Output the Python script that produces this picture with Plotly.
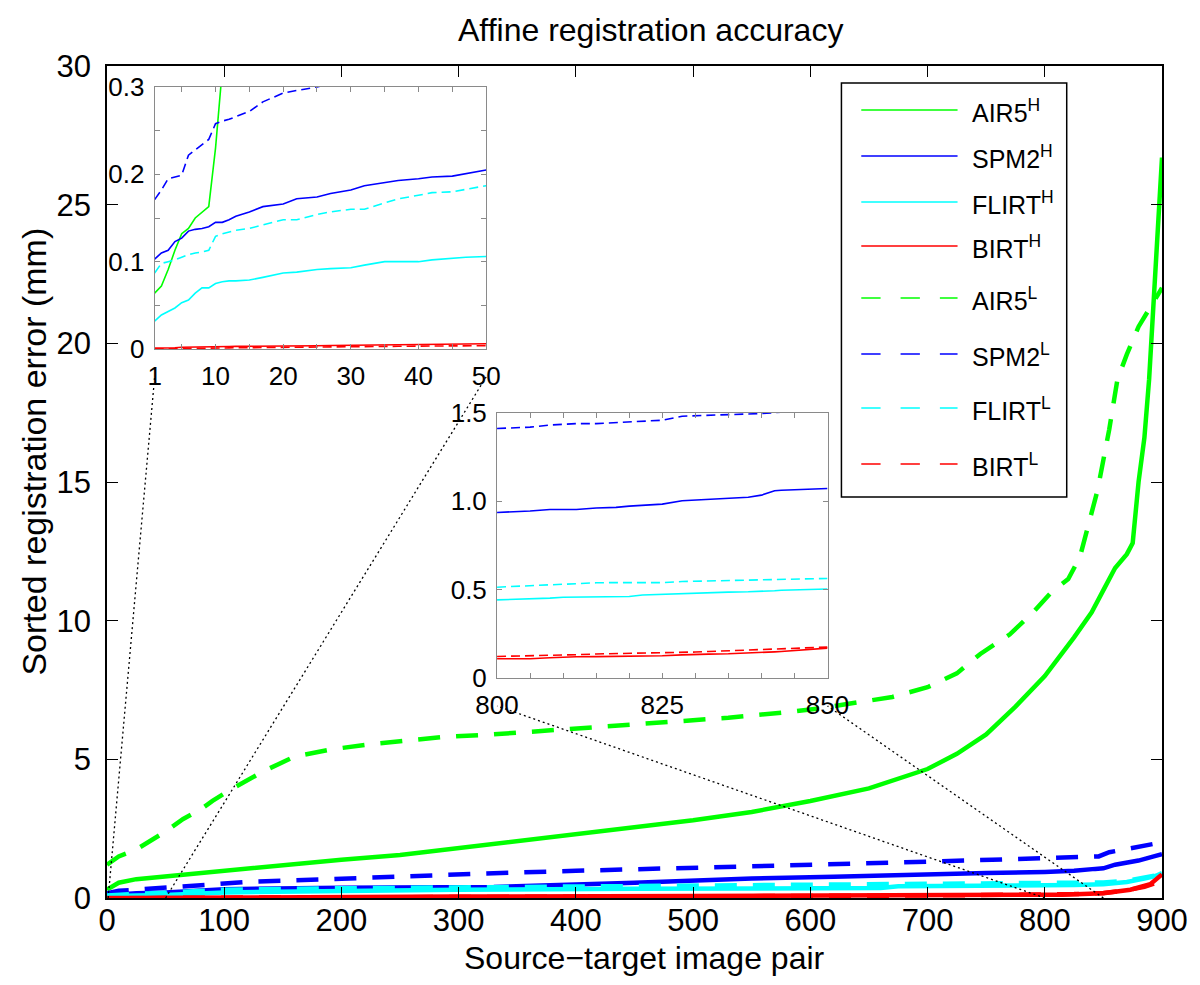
import plotly.graph_objects as go

# ---------------------------------------------------------------------------
# Sorted registration errors (mm) for each method, high (H) and low (L) quality
# ---------------------------------------------------------------------------
methods = ["AIR5", "SPM2", "FLIRT", "BIRT"]

# main panel, sorted error per source-target pair
air5_h_x = [0, 10, 25, 50, 75, 100, 150, 200, 250, 300, 350, 400, 450, 500, 550, 600, 650,
            700, 725, 750, 775, 800, 825, 840, 850, 860, 870, 875, 880, 885, 889, 893, 896, 900]
air5_h_y = [0.3, 0.55, 0.68, 0.78, 0.9, 1.0, 1.2, 1.38, 1.55, 1.8, 2.05, 2.3, 2.55, 2.8, 3.1, 3.5, 3.95,
            4.65, 5.2, 5.9, 6.9, 8.0, 9.4, 10.3, 11.1, 11.9, 12.4, 12.8, 15.0, 16.6, 18.7, 21.5, 24.0, 26.7]

spm2_h_x = [0, 10, 25, 50, 75, 100, 200, 330, 450, 500, 550, 620, 700, 750, 800, 825, 843, 850,
            860, 880, 893, 900]
spm2_h_y = [0.1, 0.13, 0.17, 0.2, 0.27, 0.32, 0.37, 0.4, 0.55, 0.63, 0.7, 0.77, 0.87, 0.9, 0.94, 0.98,
            1.05, 1.07, 1.2, 1.35, 1.5, 1.58]

flirt_h_x = [0, 10, 25, 50, 100, 200, 300, 450, 660, 675, 800, 825, 850, 870, 885, 895, 900]
flirt_h_y = [0.03, 0.075, 0.09, 0.11, 0.2, 0.25, 0.3, 0.33, 0.36, 0.42, 0.44, 0.47, 0.5, 0.58, 0.7,
             0.8, 0.9]

birt_h_x = [0, 100, 300, 500, 700, 750, 800, 815, 850, 873, 890, 893, 897, 900]
birt_h_y = [0.0, 0.03, 0.05, 0.07, 0.09, 0.1, 0.11, 0.12, 0.17, 0.3, 0.5, 0.6, 0.7, 0.85]

air5_l_x = [0, 10, 25, 35, 50, 65, 80, 90, 105, 135, 160, 190, 225, 250, 285, 330, 400, 470, 530,
            580, 610, 670, 700, 725, 745, 770, 790, 805, 820, 830, 838, 845, 850, 855, 862, 870,
            880, 890, 900]
air5_l_y = [1.2, 1.5, 1.75, 2.0, 2.4, 2.85, 3.2, 3.5, 3.9, 4.6, 5.1, 5.35, 5.55, 5.65, 5.8, 5.9, 6.1,
            6.3, 6.5, 6.7, 6.85, 7.25, 7.6, 8.1, 8.8, 9.5, 10.3, 11.0, 11.5, 12.3, 13.6, 14.7, 15.8,
            16.9, 18.7, 19.6, 20.6, 21.3, 22.0]

spm2_l_x = [0, 10, 25, 50, 85, 120, 190, 250, 320, 400, 500, 560, 626, 690, 755, 800, 825, 846,
            855, 880, 893, 900]
spm2_l_y = [0.17, 0.26, 0.3, 0.38, 0.5, 0.58, 0.68, 0.78, 0.88, 0.98, 1.08, 1.15, 1.2, 1.3, 1.38,
            1.42, 1.46, 1.5, 1.65, 1.85, 1.95, 2.05]

flirt_l_x = [0, 10, 25, 50, 100, 200, 300, 450, 600, 700, 800, 825, 850, 870, 885, 895, 900]
flirt_l_y = [0.09, 0.13, 0.15, 0.19, 0.3, 0.35, 0.38, 0.45, 0.5, 0.51, 0.52, 0.54, 0.56, 0.62, 0.72,
             0.82, 0.88]

birt_l_x = [0, 100, 300, 500, 700, 800, 825, 850, 870, 885, 895, 900]
birt_l_y = [0.0, 0.02, 0.04, 0.06, 0.09, 0.12, 0.14, 0.18, 0.28, 0.4, 0.55, 0.75]

# detail of the first 50 pairs
first_x = [1, 2, 3, 4, 5, 6, 7, 8, 9, 10, 11, 12, 13, 15, 17, 20, 22, 25, 27, 30, 32, 35, 37, 40,
           42, 45, 47, 50]
first_air5_h = [0.064, 0.072, 0.091, 0.113, 0.132, 0.138, 0.15, 0.157, 0.163, 0.23, 0.32] + [None] * 17
first_spm2_h = [0.103, 0.11, 0.113, 0.123, 0.127, 0.135, 0.137, 0.138, 0.14, 0.145, 0.145, 0.148,
                0.152, 0.157, 0.163, 0.166, 0.172, 0.174, 0.178, 0.182, 0.187, 0.191, 0.193, 0.195,
                0.197, 0.198, 0.201, 0.205]
first_flirt_h = [0.032, 0.039, 0.043, 0.047, 0.053, 0.056, 0.064, 0.07, 0.07, 0.075, 0.077, 0.078,
                 0.078, 0.079, 0.082, 0.087, 0.088, 0.091, 0.092, 0.093, 0.096, 0.1, 0.1, 0.1,
                 0.102, 0.104, 0.105, 0.106]
first_birt_h = [0.001, 0.001, 0.0015, 0.0015, 0.002, 0.002, 0.002, 0.0022, 0.0023, 0.0025, 0.0026,
                0.0028, 0.003, 0.003, 0.0032, 0.0035, 0.0036, 0.0038, 0.004, 0.0042, 0.0043, 0.0045,
                0.005, 0.0052, 0.0055, 0.006, 0.006, 0.006]
first_spm2_l = [0.171, 0.182, 0.195, 0.197, 0.199, 0.222, 0.228, 0.233, 0.24, 0.258, 0.261, 0.263,
                0.266, 0.272, 0.283, 0.293, 0.296, 0.3, 0.304] + [None] * 9
first_flirt_l = [0.087, 0.098, 0.1, 0.102, 0.105, 0.108, 0.11, 0.111, 0.113, 0.129, 0.132, 0.134,
                 0.136, 0.138, 0.142, 0.148, 0.148, 0.154, 0.157, 0.16, 0.16, 0.167, 0.172, 0.176,
                 0.179, 0.18, 0.183, 0.187]
first_birt_l = [0.0, 0.0002, 0.0004, 0.0005, 0.0006, 0.0007, 0.0008, 0.0009, 0.001, 0.0011, 0.0012,
                0.0013, 0.0014, 0.0016, 0.0018, 0.002, 0.0021, 0.0023, 0.0025, 0.0027, 0.0028, 0.003,
                0.0031, 0.0033, 0.0034, 0.0036, 0.0037, 0.0038]

# detail of pairs 800-850
tail_x = [800, 802, 805, 808, 810, 812, 815, 818, 820, 822, 825, 828, 830, 832, 835, 838, 840, 842,
          843, 845, 848, 850]
tail_spm2_h = [0.937, 0.94, 0.945, 0.954, 0.954, 0.954, 0.962, 0.966, 0.973, 0.977, 0.984, 1.003,
               1.007, 1.011, 1.013, 1.023, 1.035, 1.06, 1.063, 1.065, 1.07, 1.073]
tail_flirt_h = [0.442, 0.444, 0.447, 0.452, 0.457, 0.458, 0.459, 0.46, 0.461, 0.47, 0.474, 0.479,
                0.482, 0.484, 0.486, 0.488, 0.489, 0.494, 0.497, 0.5, 0.502, 0.504]
tail_birt_h = [0.109, 0.109, 0.109, 0.115, 0.118, 0.12, 0.121, 0.122, 0.123, 0.124, 0.126, 0.131,
               0.134, 0.135, 0.137, 0.14, 0.143, 0.148, 0.15, 0.156, 0.163, 0.169]
tail_spm2_l = [1.412, 1.414, 1.42, 1.432, 1.437, 1.44, 1.44, 1.446, 1.45, 1.453, 1.459, 1.482,
               1.484, 1.486, 1.49, 1.494, 1.497, 1.502, 1.505, 1.51, None, None]
tail_flirt_l = [0.514, 0.517, 0.523, 0.53, 0.533, 0.536, 0.539, 0.54, 0.54, 0.54, 0.54, 0.546,
                0.548, 0.55, 0.551, 0.555, 0.558, 0.559, 0.56, 0.561, 0.562, 0.563]
tail_birt_l = [0.122, 0.123, 0.125, 0.128, 0.13, 0.132, 0.136, 0.138, 0.139, 0.14, 0.141, 0.144,
               0.147, 0.15, 0.154, 0.158, 0.16, 0.162, 0.163, 0.165, 0.17, 0.175]

main_x_ticks = [0, 100, 200, 300, 400, 500, 600, 700, 800, 900]
main_y_ticks = [0, 5, 10, 15, 20, 25, 30]

# ---------------------------------------------------------------------------
# styling / layout constants
# ---------------------------------------------------------------------------
COLORS = {"AIR5": "#00ff00", "SPM2": "#0000ff", "FLIRT": "#00ffff", "BIRT": "#ff0000"}
FONT = "Liberation Sans, Arial, Helvetica, sans-serif"
W, H = 1200, 985
L, R, T, B = 107, 1170, 66, 898          # main plot area edges (px)
INSET1 = (155, 489, 87, 349)             # left, right, top, bottom (px)
INSET2 = (500, 833, 413, 678)
MAIN_DASH = "22px,16px"
INSET_DASH = "9px,5px"
GREY = "#8a8a8a"


def px_x(p):
    return (p - L) / (R - L)


def px_y(p):
    return (B - p) / (B - T)


fig = go.Figure()

main_series = [
    ("AIR5", "H", air5_h_x, air5_h_y),
    ("SPM2", "H", spm2_h_x, spm2_h_y),
    ("FLIRT", "H", flirt_h_x, flirt_h_y),
    ("BIRT", "H", birt_h_x, birt_h_y),
    ("AIR5", "L", air5_l_x, air5_l_y),
    ("SPM2", "L", spm2_l_x, spm2_l_y),
    ("FLIRT", "L", flirt_l_x, flirt_l_y),
    ("BIRT", "L", birt_l_x, birt_l_y),
]
for m, q, xs, ys in main_series:
    fig.add_trace(go.Scatter(
        x=xs, y=ys, mode="lines", name=f"{m}{q}", hoverinfo="skip",
        line=dict(color=COLORS[m], width=4.5, dash="solid" if q == "H" else MAIN_DASH),
        xaxis="x", yaxis="y"))

first_series = [
    ("AIR5", "H", first_air5_h), ("SPM2", "H", first_spm2_h), ("FLIRT", "H", first_flirt_h),
    ("BIRT", "H", first_birt_h), ("SPM2", "L", first_spm2_l), ("FLIRT", "L", first_flirt_l),
    ("BIRT", "L", first_birt_l),
]
for m, q, ys in first_series:
    fig.add_trace(go.Scatter(
        x=first_x, y=ys, mode="lines", hoverinfo="skip", connectgaps=False,
        line=dict(color=COLORS[m], width=1.6, dash="solid" if q == "H" else INSET_DASH),
        xaxis="x2", yaxis="y2"))

tail_series = [
    ("SPM2", "H", tail_spm2_h), ("FLIRT", "H", tail_flirt_h), ("BIRT", "H", tail_birt_h),
    ("SPM2", "L", tail_spm2_l), ("FLIRT", "L", tail_flirt_l), ("BIRT", "L", tail_birt_l),
]
for m, q, ys in tail_series:
    fig.add_trace(go.Scatter(
        x=tail_x, y=ys, mode="lines", hoverinfo="skip", connectgaps=False,
        line=dict(color=COLORS[m], width=1.6, dash="solid" if q == "H" else INSET_DASH),
        xaxis="x3", yaxis="y3"))

main_ax = dict(showline=True, linecolor="black", linewidth=1.5, mirror="ticks",
               ticks="inside", ticklen=11, tickwidth=1.3, tickcolor="black",
               showgrid=False, zeroline=False,
               tickfont=dict(family=FONT, size=31, color="black"))
inset_ax = dict(showline=True, linecolor=GREY, linewidth=1, mirror="ticks",
                ticks="inside", ticklen=5, tickwidth=1, tickcolor=GREY,
                showgrid=False, zeroline=False, ticklabelstandoff=4,
                tickfont=dict(family=FONT, size=26, color="black"))

fx1 = list(range(5, 55, 5))
fx1 = [first_x[0]] + fx1
fx1_text = [str(v) if (v == 1 or v % 10 == 0) else "" for v in fx1]
fy1 = [0, 0.05, 0.1, 0.15, 0.2, 0.25, 0.3]
fy1_text = ["0", "", "0.1", "", "0.2", "", "0.3"]
tx = list(range(800, 855, 5))
tx_text = [str(v) if v % 25 == 0 else "" for v in tx]
ty = [0, 0.5, 1.0, 1.5]
ty_text = ["0", "0.5", "1.0", "1.5"]

fig.update_layout(
    width=W, height=H,
    margin=dict(l=L, r=W - R, t=T, b=H - B),
    paper_bgcolor="white", plot_bgcolor="white",
    showlegend=False,
    xaxis=dict(main_ax, domain=[0, 1], range=[0, 900], tickvals=main_x_ticks,
               ticklabelstandoff=-6),
    yaxis=dict(main_ax, domain=[0, 1], range=[0, 30], tickvals=main_y_ticks,
               ticklabelstandoff=8),
    xaxis2=dict(inset_ax, anchor="y2", domain=[px_x(INSET1[0]), px_x(INSET1[1])],
                range=[first_x[0], first_x[-1]], tickvals=fx1, ticktext=fx1_text),
    yaxis2=dict(inset_ax, anchor="x2", domain=[px_y(INSET1[3]), px_y(INSET1[2])],
                range=[0, 0.3], tickvals=fy1, ticktext=fy1_text),
    xaxis3=dict(inset_ax, anchor="y3", domain=[px_x(INSET2[0]), px_x(INSET2[1])],
                range=[tail_x[0], tail_x[-1]], tickvals=tx, ticktext=tx_text),
    yaxis3=dict(inset_ax, anchor="x3", domain=[px_y(INSET2[3]), px_y(INSET2[2])],
                range=[0, 1.5], tickvals=ty, ticktext=ty_text),
)

shapes = []
annotations = []

# dotted connectors from the zoomed ranges on the main axis to the insets
LABEL_GAP = 28
main_xr = (0, 900)


def main_to_paper(xv):
    return (xv - main_xr[0]) / (main_xr[1] - main_xr[0])


for xv, corner_px, box in [
    (first_x[0], INSET1[0], INSET1), (first_x[-1], INSET1[1], INSET1),
    (tail_x[0], INSET2[0], INSET2), (tail_x[-1], INSET2[1], INSET2),
]:
    shapes.append(dict(type="line", xref="paper", yref="paper",
                       x0=main_to_paper(xv), y0=0,
                       x1=px_x(corner_px), y1=px_y(box[3] + LABEL_GAP),
                       line=dict(color="black", width=1.3, dash="2px,3px"), layer="above"))

# legend box
LEG_BOX = (847, 1074, 83, 497)
LEG_ROWS = [110, 156, 202, 246, 298, 354, 408, 464]
LEG_LINE = (867, 964)
LEG_TEXT_X = 977
shapes.append(dict(type="rect", xref="paper", yref="paper",
                   x0=px_x(LEG_BOX[0]), x1=px_x(LEG_BOX[1]),
                   y0=px_y(LEG_BOX[3]), y1=px_y(LEG_BOX[2]),
                   line=dict(color="black", width=1.5), fillcolor="white", layer="above"))
for (m, q, _, _), row in zip(main_series, LEG_ROWS):
    shapes.append(dict(type="line", xref="paper", yref="paper",
                       x0=px_x(LEG_LINE[0]), x1=px_x(LEG_LINE[1]),
                       y0=px_y(row), y1=px_y(row), layer="above",
                       line=dict(color=COLORS[m], width=1.6,
                                 dash="solid" if q == "H" else "19.3px,20px")))
    annotations.append(dict(xref="paper", yref="paper", x=px_x(LEG_TEXT_X), y=px_y(row + 1),
                            xanchor="left", yanchor="middle", showarrow=False,
                            text=f"{m}<sup>{q}</sup>",
                            font=dict(family=FONT, size=25, color="black")))

# titles
annotations.append(dict(xref="paper", yref="paper", x=px_x(655), y=px_y(30),
                        xanchor="center", yanchor="middle", showarrow=False,
                        text="Affine registration accuracy",
                        font=dict(family=FONT, size=32, color="black")))
annotations.append(dict(xref="paper", yref="paper", x=px_x(649), y=px_y(958),
                        xanchor="center", yanchor="middle", showarrow=False,
                        text="Source\u2212target image pair",
                        font=dict(family=FONT, size=32, color="black")))
annotations.append(dict(xref="paper", yref="paper", x=px_x(33), y=px_y(452),
                        xanchor="center", yanchor="middle", showarrow=False, textangle=-90,
                        text="Sorted registration error (mm)",
                        font=dict(family=FONT, size=34, color="black")))

fig.update_layout(shapes=shapes, annotations=annotations)
fig.write_html("out.html")
